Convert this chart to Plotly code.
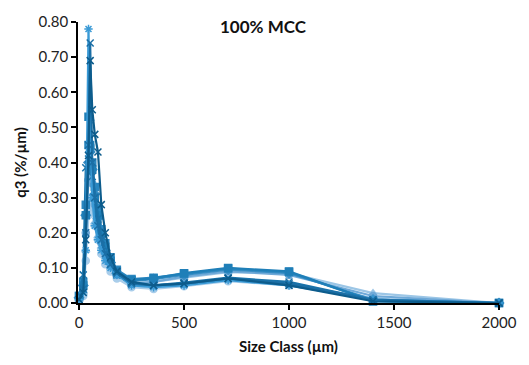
import plotly.graph_objects as go

size_class = [0, 20, 32, 45, 53, 63, 75, 90, 106, 125, 150, 180, 250, 355, 500, 710, 1000, 1400, 2000]

s1 = [0.01, 0.03, 0.15, 0.78, 0.52, 0.30, 0.22, 0.18, 0.15, 0.12, 0.10, 0.08, 0.05, 0.045, 0.05, 0.065, 0.05, 0.01, 0.0]
s2 = [0.01, 0.04, 0.20, 0.45, 0.74, 0.40, 0.30, 0.22, 0.18, 0.14, 0.11, 0.085, 0.055, 0.05, 0.055, 0.07, 0.055, 0.01, 0.0]
s3 = [0.01, 0.03, 0.18, 0.42, 0.69, 0.55, 0.48, 0.43, 0.28, 0.20, 0.13, 0.09, 0.06, 0.05, 0.055, 0.07, 0.05, 0.005, 0.0]
s4 = [0.02, 0.05, 0.25, 0.53, 0.45, 0.38, 0.30, 0.25, 0.20, 0.16, 0.12, 0.09, 0.065, 0.07, 0.085, 0.10, 0.09, 0.005, 0.0]
s5 = [0.02, 0.06, 0.28, 0.45, 0.44, 0.40, 0.33, 0.27, 0.21, 0.17, 0.13, 0.095, 0.068, 0.072, 0.083, 0.098, 0.088, 0.005, 0.0]
s6 = [0.015, 0.05, 0.25, 0.40, 0.43, 0.38, 0.31, 0.24, 0.19, 0.15, 0.115, 0.085, 0.062, 0.068, 0.08, 0.095, 0.085, 0.01, 0.0]
s7 = [0.02, 0.08, 0.385, 0.41, 0.40, 0.36, 0.30, 0.24, 0.19, 0.15, 0.11, 0.08, 0.055, 0.05, 0.058, 0.072, 0.06, 0.008, 0.0]
s8 = [0.01, 0.04, 0.20, 0.35, 0.38, 0.34, 0.28, 0.22, 0.17, 0.14, 0.11, 0.08, 0.055, 0.06, 0.075, 0.09, 0.08, 0.02, 0.0]
s9 = [0.01, 0.03, 0.15, 0.28, 0.30, 0.27, 0.23, 0.19, 0.16, 0.13, 0.10, 0.08, 0.055, 0.06, 0.072, 0.088, 0.085, 0.028, 0.0]
s10 = [0.005, 0.02, 0.12, 0.25, 0.28, 0.26, 0.22, 0.18, 0.14, 0.11, 0.09, 0.07, 0.045, 0.04, 0.048, 0.062, 0.05, 0.015, 0.0]

series = [s10, s9, s8, s6, s5, s4, s7, s1, s2, s3]
colors = ["#a9cdea", "#9cc6e6", "#6fa9d8", "#3b8fc6", "#2a86bf", "#1f7fb8", "#1a74ab", "#3a9ad6", "#1b6fa6", "#0d5c8c"]
symbols = ["circle", "triangle-up", "circle", "diamond", "square", "square", "x-thin", "asterisk", "x-thin", "x-thin"]

fig = go.Figure()
for ys, c, sym in zip(series, colors, symbols):
    fig.add_trace(go.Scatter(
        x=size_class, y=ys, mode="lines+markers",
        line=dict(color=c, width=2.2),
        marker=dict(symbol=sym, size=7, color=c, line=dict(color=c, width=1.5)),
        cliponaxis=False, showlegend=False))

fig.add_annotation(text="<b>100% MCC</b>", x=0.44, y=0.985, xref="paper", yref="paper",
                   showarrow=False, font=dict(size=17, color="#111"), xanchor="center", yanchor="middle")

fig.update_layout(
    width=529, height=365,
    margin=dict(l=78, r=20, t=20, b=61),
    paper_bgcolor="white", plot_bgcolor="white",
    font=dict(family="Lato, Open Sans, sans-serif", size=15, color="#222"),
    xaxis=dict(range=[-5, 2000], tickvals=[0, 500, 1000, 1500, 2000], showgrid=False, zeroline=False,
               showline=True, linecolor="black", linewidth=1.5, ticks="outside", ticklen=5,
               tickcolor="black", tickwidth=1.5,
               title=dict(text="<b>Size Class (µm)</b>", font=dict(size=15, color="#111"), standoff=12)),
    yaxis=dict(range=[0, 0.8], tickvals=[0, 0.1, 0.2, 0.3, 0.4, 0.5, 0.6, 0.7, 0.8], tickformat=".2f",
               showgrid=False, zeroline=False, showline=True, linecolor="black", linewidth=1.5,
               ticks="outside", ticklen=5, tickcolor="black", tickwidth=1.5,
               title=dict(text="<b>q3 (%/µm)</b>", font=dict(size=15, color="#111"), standoff=8)),
)

fig.write_html("out.html")
